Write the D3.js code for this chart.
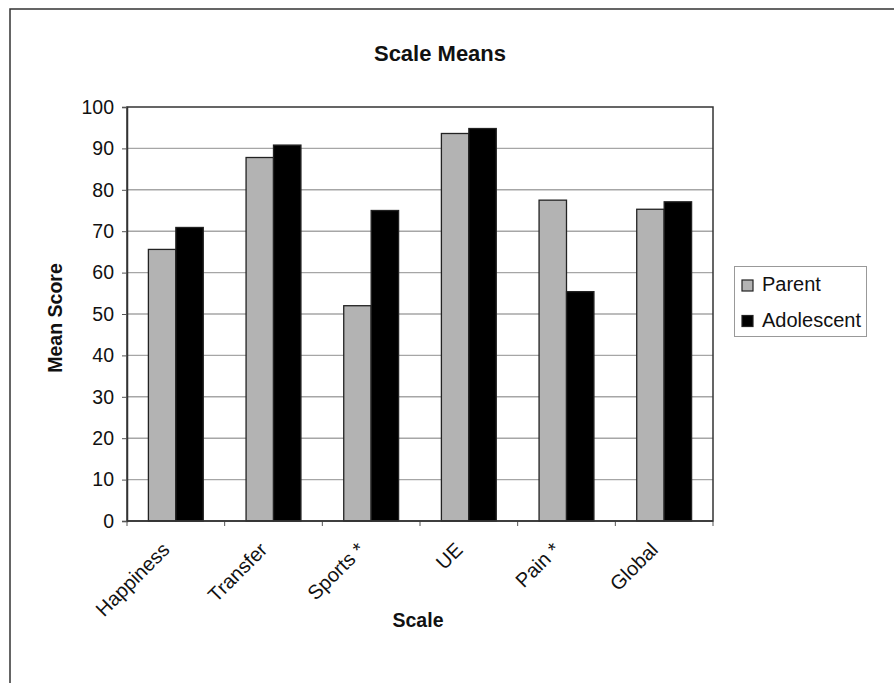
<!DOCTYPE html>
<html><head><meta charset="utf-8">
<script src="https://cdn.jsdelivr.net/npm/d3@7"></script>
<style>body{margin:0;background:#fff;} svg{display:block;}</style>
</head><body>
<script>
const categories = ["Happiness", "Transfer", "Sports *", "UE", "Pain *", "Global"];
const seriesNames = ["Parent", "Adolescent"];
const parentValues = [65.6, 87.8, 52.0, 93.6, 77.5, 75.3];
const adolescentValues = [70.9, 90.8, 75.0, 94.8, 55.4, 77.1];
const yTicks = [0, 10, 20, 30, 40, 50, 60, 70, 80, 90, 100];
const seriesColors = ["#b3b3b3", "#000000"];

const W = 894, H = 683;
const m = {left: 127, right: 713, top: 107, bottom: 521};
const font = "'Liberation Sans', Arial, Helvetica, sans-serif";

const svg = d3.select("body").append("svg").attr("width", W).attr("height", H);

svg.append("rect").attr("x", 10).attr("y", 9).attr("width", 1000).attr("height", 1000)
  .attr("fill", "#fff").attr("stroke", "#333").attr("stroke-width", 1.5);

const x0 = d3.scaleBand().domain(categories).range([m.left, m.right]).padding(0);
const x1 = d3.scaleBand().domain(seriesNames).range([0, x0.bandwidth()]).paddingInner(0).paddingOuter(0.78);
const y = d3.scaleLinear().domain([0, 100]).range([m.bottom, m.top]);

// gridlines
svg.append("g").selectAll("line").data(yTicks.filter(d => d > 0 && d < 100)).join("line")
  .attr("x1", m.left).attr("x2", m.right).attr("y1", d => y(d)).attr("y2", d => y(d))
  .attr("stroke", "#a6a6a6").attr("stroke-width", 1.4);

// bars
const data = categories.map((c, i) => ({c, vals: [parentValues[i], adolescentValues[i]]}));
const g = svg.append("g").selectAll("g").data(data).join("g")
  .attr("transform", d => `translate(${x0(d.c)},0)`);
g.selectAll("rect").data(d => d.vals.map((v, k) => ({v, s: seriesNames[k], k}))).join("rect")
  .attr("x", d => x1(d.s)).attr("width", x1.bandwidth())
  .attr("y", d => y(d.v)).attr("height", d => y(0) - y(d.v))
  .attr("fill", d => seriesColors[d.k]).attr("stroke", "#222").attr("stroke-width", 1.3);

// plot border
svg.append("rect").attr("x", m.left).attr("y", m.top).attr("width", m.right - m.left).attr("height", m.bottom - m.top)
  .attr("fill", "none").attr("stroke", "#333").attr("stroke-width", 1.5);

// y axis
const yAxis = svg.append("g").attr("transform", `translate(${m.left},0)`)
  .call(d3.axisLeft(y).tickValues(yTicks).tickSize(5).tickPadding(8));
yAxis.select(".domain").attr("stroke", "#333").attr("stroke-width", 1.5);
yAxis.selectAll(".tick line").attr("stroke", "#555");
yAxis.selectAll("text").attr("font-family", font).attr("font-size", 19.5).attr("fill", "#111");

// x axis ticks at category boundaries
const bounds = categories.map(c => x0(c)).concat([m.right]);
svg.append("g").selectAll("line").data(bounds).join("line")
  .attr("x1", d => d).attr("x2", d => d).attr("y1", m.bottom).attr("y2", m.bottom + 5)
  .attr("stroke", "#555");
svg.append("line").attr("x1", m.left).attr("x2", m.right).attr("y1", m.bottom).attr("y2", m.bottom)
  .attr("stroke", "#333").attr("stroke-width", 1.5);

svg.append("g").selectAll("text").data(categories).join("text")
  .attr("transform", c => `translate(${x0(c) + x0.bandwidth() / 2 - 5},551) rotate(-45)`)
  .attr("text-anchor", "end").attr("font-family", font).attr("font-size", 20).attr("fill", "#111")
  .text(c => c);

// titles
svg.append("text").attr("x", 440).attr("y", 61).attr("text-anchor", "middle")
  .attr("font-family", font).attr("font-size", 22).attr("font-weight", "bold").attr("fill", "#111")
  .text("Scale Means");
svg.append("text").attr("transform", "translate(62,318) rotate(-90)").attr("text-anchor", "middle")
  .attr("font-family", font).attr("font-size", 19.5).attr("font-weight", "bold").attr("fill", "#111")
  .text("Mean Score");
svg.append("text").attr("x", 418).attr("y", 627).attr("text-anchor", "middle")
  .attr("font-family", font).attr("font-size", 19.5).attr("font-weight", "bold").attr("fill", "#111")
  .text("Scale");

// legend
const lg = svg.append("g");
lg.append("rect").attr("x", 734.5).attr("y", 266.5).attr("width", 132).attr("height", 70)
  .attr("fill", "#fff").attr("stroke", "#999").attr("stroke-width", 1);
const li = lg.selectAll("g").data(seriesNames).join("g")
  .attr("transform", (d, i) => `translate(742,${280 + i * 35.5})`);
li.append("rect").attr("width", 11).attr("height", 11)
  .attr("fill", (d, i) => seriesColors[i]).attr("stroke", "#222").attr("stroke-width", 1.2);
li.append("text").attr("x", 20).attr("y", 11).attr("font-family", font).attr("font-size", 20)
  .attr("fill", "#111").text(d => d);
</script>
</body></html>
